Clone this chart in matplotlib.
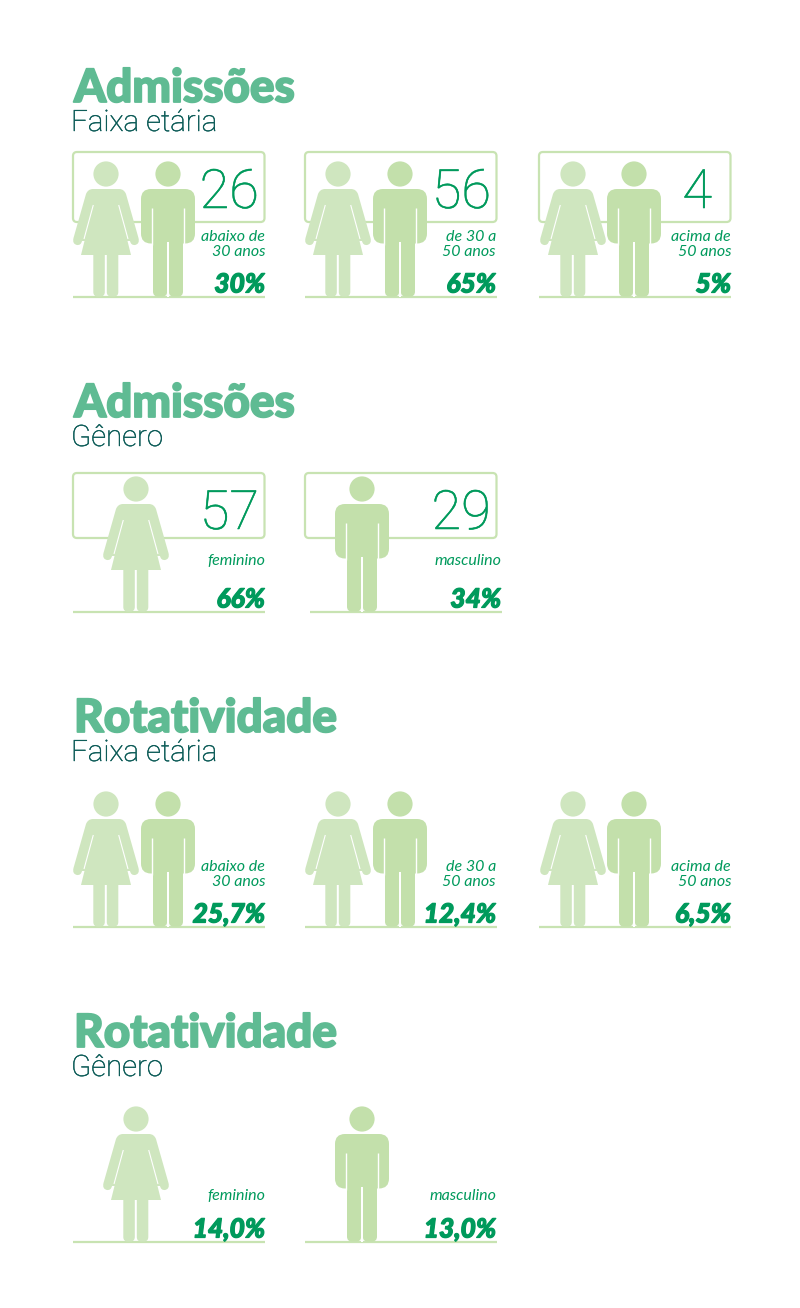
import matplotlib
matplotlib.use('Agg')
import matplotlib.pyplot as plt
import matplotlib.patheffects as pe
from matplotlib.path import Path
from matplotlib.patches import PathPatch, Circle, FancyBboxPatch, Rectangle

# dados
titulos = ['Admissões', 'Admissões', 'Rotatividade', 'Rotatividade']
subtitulos = ['Faixa etária', 'Gênero', 'Faixa etária', 'Gênero']
faixas = ['abaixo de\n30 anos', 'de 30 a\n50 anos', 'acima de\n50 anos']
generos = ['feminino', 'masculino']
adm_idade = [26, 56, 4]
adm_idade_pct = ['30%', '65%', '5%']
adm_genero = [57, 29]
adm_genero_pct = ['66%', '34%']
rot_idade_pct = ['25,7%', '12,4%', '6,5%']
rot_genero_pct = ['14,0%', '13,0%']

VERDE = '#009a5c'
TITULO = '#5fbb93'
SUB = '#0a5a56'
MULHER = '#cfe6bf'
HOMEM = '#c3e0ab'
BORDA = '#c8e3b2'

FONTE = 'Lato'
FINA = 'Roboto'

fig = plt.figure(figsize=(8, 13.08), dpi=100)
ax = fig.add_axes([0, 0, 1, 1])
ax.set_xlim(0, 800)
ax.set_ylim(1308, 0)
ax.axis('off')


def rrect(x0, y0, x1, y1, r, cor, z=3):
    ax.add_patch(FancyBboxPatch((x0 + r, y0 + r), x1 - x0 - 2 * r, y1 - y0 - 2 * r,
                                boxstyle=f'round,pad={r},rounding_size={r}',
                                fc=cor, ec='none', zorder=z))


def mulher(dx, dy):
    # silhueta desenhada com x relativo ao centro 106
    c = 106 + dx
    ax.add_patch(Circle((c, 174 + dy), 12.6, fc=MULHER, ec='none', zorder=3))
    metade = [(-13, 189), (-18, 189), (-20, 194), (-32.5, 238), (-34, 244), (-29, 245),
              (-25, 245.5), (-24, 241), (-21.5, 241), (-25, 255)]
    cods = [Path.MOVETO, Path.CURVE3, Path.CURVE3, Path.LINETO, Path.CURVE3, Path.CURVE3,
            Path.CURVE3, Path.CURVE3, Path.LINETO, Path.LINETO]
    pts = [(c + x, y + dy) for x, y in metade]
    pts2 = [(c - x, y + dy) for x, y in reversed(metade)]
    cods2 = [Path.LINETO, Path.LINETO, Path.LINETO, Path.CURVE3, Path.CURVE3, Path.CURVE3,
             Path.CURVE3, Path.LINETO, Path.CURVE3, Path.CURVE3]
    ax.add_patch(PathPatch(Path(pts + pts2 + [pts[0]], cods + cods2 + [Path.CLOSEPOLY]),
                           fc=MULHER, ec='none', zorder=3))
    # pernas
    rrect(c - 12.7, 250 + dy, c - 1.2, 296.5 + dy, 4.5, MULHER)
    rrect(c + 0.8, 250 + dy, c + 12.3, 296.5 + dy, 4.5, MULHER)
    # frisos entre braco e vestido
    for s in (-1, 1):
        ax.plot([c + s * 12.7, c + s * 22], [205 + dy, 239 + dy], color='white', lw=0.8,
                zorder=4, solid_capstyle='butt')


def homem(dx, dy):
    c = 168 + dx
    ax.add_patch(Circle((c, 174 + dy), 12.6, fc=HOMEM, ec='none', zorder=3))
    rrect(c - 27, 189 + dy, c + 27, 243.5 + dy, 10, HOMEM)
    rrect(c - 15, 230 + dy, c - 0.8, 296.5 + dy, 5, HOMEM)
    rrect(c + 0.8, 230 + dy, c + 15, 296.5 + dy, 5, HOMEM)
    ax.add_patch(Rectangle((c - 0.7, 242 + dy), 1.4, 55, fc='white', ec='none', zorder=4))
    for s in (-1, 1):
        ax.plot([c + s * 16, c + s * 16], [208 + dy, 245 + dy], color='white', lw=1.0,
                zorder=4, solid_capstyle='butt')


def painel(x_box, x_base, x_txt, dx_m, dx_h, dy, rotulo, pct, numero=None, x_num=None, dy_rot=0):
    if numero is not None:
        topo = 152 if dy == 0 else 473 - dy
        fundo = 222 if dy == 0 else 538 - dy
        ax.add_patch(FancyBboxPatch((x_box + 3, topo + 3 + dy), 185.5, fundo - topo - 6,
                                    boxstyle='round,pad=3,rounding_size=4',
                                    fc='none', ec=BORDA, lw=1.6, zorder=1))
        ax.text(x_num, (topo + 56) + dy, str(numero), ha='right', va='baseline', color=VERDE,
                fontsize=39, family=FINA, weight='light', zorder=5,
                path_effects=[pe.withStroke(linewidth=0.4, foreground=VERDE)])
    ax.plot([x_base, x_base + 192], [297 + dy, 297 + dy], color=BORDA, lw=1.6, zorder=2,
            solid_capstyle='butt')
    if dx_m is not None:
        mulher(dx_m, dy)
    if dx_h is not None:
        homem(dx_h, dy)
    if '\n' in rotulo:
        a, b = rotulo.split('\n')
        ax.text(x_txt, 241 + dy, a, ha='right', va='baseline', color=VERDE, fontsize=11.5,
                family=FONTE, style='italic')
        ax.text(x_txt, 256 + dy, b, ha='right', va='baseline', color=VERDE, fontsize=11.5,
                family=FONTE, style='italic')
    else:
        ax.text(x_txt, 250 + dy + dy_rot, rotulo, ha='right', va='baseline', color=VERDE,
                fontsize=11.5, family=FONTE, style='italic')
    ax.text(x_txt, 292.5 + dy, pct, ha='right', va='baseline', color=VERDE, fontsize=19,
            family=FONTE, style='italic', weight='black',
            path_effects=[pe.withStroke(linewidth=0.9, foreground=VERDE)])


def cabecalho(y, titulo, sub):
    ax.text(74, y, titulo, ha='left', va='baseline', color=TITULO, fontsize=33,
            family=FONTE, weight='black',
            path_effects=[pe.withStroke(linewidth=1.3, foreground=TITULO)])
    ax.text(71, y + 29, sub, ha='left', va='baseline', color=SUB, fontsize=21.2,
            family=FINA, weight='light',
            path_effects=[pe.withStroke(linewidth=0.3, foreground=SUB)])


# secao 1
cabecalho(102, titulos[0], subtitulos[0])
painel(73, 73, 265, 0, 0, 0, faixas[0], adm_idade_pct[0], adm_idade[0], 259)
painel(305, 305, 496, 232, 232, 0, faixas[1], adm_idade_pct[1], adm_idade[1], 491)
painel(539, 539, 731, 467, 466, 0, faixas[2], adm_idade_pct[2], adm_idade[2], 712)

# secao 2
cabecalho(417, titulos[1], subtitulos[1])
painel(73, 73, 265, 30, None, 315, generos[0], adm_genero_pct[0], adm_genero[0], 259)
painel(305, 310, 501, None, 194, 315, generos[1], adm_genero_pct[1], adm_genero[1], 491)

# secao 3
cabecalho(732, titulos[2], subtitulos[2])
painel(73, 73, 265, 0, 0, 630, faixas[0], rot_idade_pct[0])
painel(305, 305, 496, 232, 232, 630, faixas[1], rot_idade_pct[1])
painel(539, 539, 731, 467, 466, 630, faixas[2], rot_idade_pct[2])

# secao 4
cabecalho(1047, titulos[3], subtitulos[3])
painel(73, 73, 265, 30, None, 945, generos[0], rot_genero_pct[0], dy_rot=5)
painel(305, 305, 496, None, 194, 945, generos[1], rot_genero_pct[1], dy_rot=5)

fig.savefig('out.png', dpi=100)
